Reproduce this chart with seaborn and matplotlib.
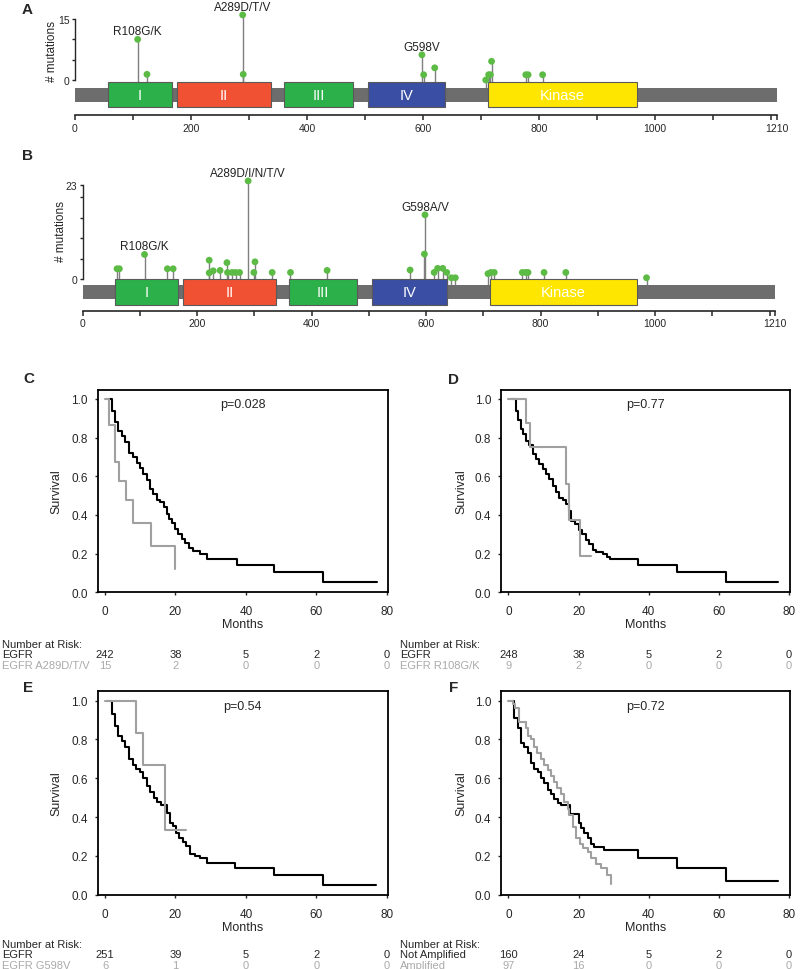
import pandas as pd
import matplotlib.pyplot as plt
import matplotlib.transforms as mtransforms
from matplotlib.patches import Rectangle
import seaborn as sns

sns.set_style("ticks")
plt.rcParams["font.family"] = ["Liberation Sans", "DejaVu Sans"]

# =========================================================
# DATA - EGFR protein / lollipops
# =========================================================
protein_len   = 1210
domain_names  = ["I", "II", "III", "IV", "Kinase"]
domain_starts = [57, 176, 360, 505, 712]
domain_ends   = [167, 337, 480, 637, 968]
domain_colors = ["#2cb04a", "#f05133", "#2cb04a", "#3a4ea3", "#ffe600"]

# panel A (counts)
a_pos = [108, 124, 289, 290, 598, 601, 620, 708, 713, 716, 718, 777, 781, 806]
a_cnt = [10, 1.4, 16, 1.4, 6.2, 1.3, 3.0, 0.0, 1.3, 1.3, 4.6, 1.3, 1.3, 1.3]
a_hot_pos = [108, 289, 598]
a_hot_lab = ["R108G/K", "A289D/T/V", "G598V"]

# panel B
b_pos = [60, 64, 108, 148, 158, 221, 221, 228, 240, 252, 253, 261, 267, 274, 289,
         299, 301, 331, 363, 427, 572, 597, 598, 614, 620, 629, 636, 644, 651,
         708, 713, 719, 768, 774, 778, 806, 844, 985]
b_cnt = [2.5, 2.5, 6.0, 2.5, 2.5, 4.6, 1.5, 2.0, 2.1, 4.0, 1.6, 1.6, 1.6, 1.6, 24,
         1.6, 4.2, 1.6, 1.6, 2.1, 2.2, 6.1, 15.7, 1.6, 2.6, 2.6, 1.6, 0.3, 0.3,
         1.3, 1.6, 1.6, 1.6, 1.6, 1.6, 1.6, 1.6, 0.3]
b_hot_pos = [108, 289, 598]
b_hot_lab = ["R108G/K", "A289D/I/N/T/V", "G598A/V"]

# =========================================================
# DATA - Kaplan-Meier curves (months, survival)
# =========================================================
c_t1 = [1.0, 1.9, 2.8, 3.8, 4.7, 5.7, 6.9, 8.0, 9.0, 9.9, 10.9, 11.8, 12.8, 13.7, 14.7, 15.6,
        16.6, 17.5, 18.2, 18.9, 19.9, 20.8, 21.8, 22.7, 23.7, 25.1, 27.0, 28.9, 37.4, 48.0, 62.0, 77.4]
c_s1 = [1.0, 0.94, 0.88, 0.835, 0.81, 0.78, 0.72, 0.70, 0.67, 0.645, 0.61, 0.58, 0.535, 0.51, 0.48, 0.465,
        0.44, 0.405, 0.38, 0.36, 0.325, 0.30, 0.275, 0.255, 0.23, 0.215, 0.20, 0.17, 0.14, 0.105, 0.055, 0.055]
c_t2 = [0, 1.0, 2.7, 4.0, 6.0, 8.0, 13.0, 20.0]
c_s2 = [1.0, 0.867, 0.675, 0.578, 0.48, 0.36, 0.24, 0.12]

d_t1 = [0.7, 2.1, 2.8, 3.5, 4.3, 5.0, 5.9, 6.9, 7.8, 8.8, 9.75, 10.7, 11.7, 12.6, 13.6, 14.5, 15.5,
        16.4, 17.4, 18.0, 19.0, 20.0, 21.0, 22.0, 23.0, 24.0, 25.0, 27.0, 28.0, 29.0, 37.0, 48.0, 62.0, 77.0]
d_s1 = [1.0, 0.94, 0.89, 0.845, 0.82, 0.785, 0.76, 0.715, 0.69, 0.665, 0.64, 0.61, 0.585, 0.55, 0.52, 0.49, 0.475,
        0.455, 0.42, 0.37, 0.355, 0.32, 0.30, 0.27, 0.25, 0.22, 0.21, 0.20, 0.185, 0.17, 0.14, 0.105, 0.055, 0.055]
d_t2 = [0, 5.1, 6.1, 16.3, 17.3, 20.3, 23.5]
d_s2 = [1.0, 0.875, 0.75, 0.56, 0.375, 0.19, 0.19]

e_t1 = [1.0, 1.9, 2.8, 3.8, 4.7, 5.7, 6.8, 7.9, 8.9, 9.9, 10.9, 11.8, 12.8, 13.8, 14.8, 15.8,
        17.5, 18.5, 19.3, 20.2, 21.1, 22.1, 23.0, 24.0, 25.5, 27.0, 29.0, 37.0, 48.0, 62.0, 77.0]
e_s1 = [1.0, 0.93, 0.87, 0.82, 0.79, 0.76, 0.70, 0.67, 0.65, 0.63, 0.60, 0.56, 0.53, 0.50, 0.48, 0.46,
        0.42, 0.37, 0.355, 0.32, 0.29, 0.27, 0.25, 0.21, 0.20, 0.19, 0.165, 0.135, 0.10, 0.05, 0.05]
e_t2 = [0, 8.9, 10.9, 16.9, 23.0]
e_s2 = [1.0, 0.833, 0.667, 0.333, 0.333]

f_t1 = [1.0, 1.7, 2.8, 3.7, 4.6, 5.5, 6.5, 7.4, 8.4, 9.3, 10.3, 11.2, 12.2, 13.1, 14.1, 15.0,
        17.6, 20.0, 20.7, 21.7, 22.6, 23.6, 24.4, 27.4, 37.0, 48.0, 62.0, 77.0]
f_s1 = [1.0, 0.91, 0.86, 0.78, 0.76, 0.73, 0.68, 0.65, 0.63, 0.60, 0.575, 0.54, 0.52, 0.495, 0.475, 0.46,
        0.415, 0.37, 0.345, 0.32, 0.29, 0.26, 0.245, 0.23, 0.19, 0.14, 0.07, 0.07]
f_t2 = [0, 1.4, 2.0, 3.1, 5.0, 5.5, 6.4, 7.4, 8.3, 9.3, 10.2, 11.2, 12.1, 13.1, 14.0, 15.0,
        16.0, 16.9, 17.4, 18.4, 19.3, 20.3, 21.2, 22.6, 23.6, 25.0, 26.5, 28.0, 29.4]
f_s2 = [1.0, 0.98, 0.96, 0.89, 0.86, 0.82, 0.80, 0.76, 0.73, 0.70, 0.67, 0.64, 0.61, 0.58, 0.55, 0.52,
        0.48, 0.44, 0.41, 0.35, 0.29, 0.26, 0.24, 0.22, 0.19, 0.16, 0.14, 0.10, 0.055]

risk_times = [0, 20, 40, 60, 80]
c_risk = (["EGFR", "EGFR A289D/T/V"], [242, 38, 5, 2, 0], [15, 2, 0, 0, 0])
d_risk = (["EGFR", "EGFR R108G/K"], [248, 38, 5, 2, 0], [9, 2, 0, 0, 0])
e_risk = (["EGFR", "EGFR G598V"], [251, 39, 5, 2, 0], [6, 1, 0, 0, 0])
f_risk = (["Not Amplified", "Amplified"], [160, 24, 5, 2, 0], [97, 16, 0, 0, 0])
p_values = ["p=0.028", "p=0.77", "p=0.54", "p=0.72"]

# =========================================================
# FIGURE
# =========================================================
W, H = 800, 970
fig = plt.figure(figsize=(W / 100, H / 100), dpi=100)
GREY = "#a0a0a0"


def add_ax(left, top, right, bottom):
    return fig.add_axes([left / W, 1 - bottom / H, (right - left) / W, (bottom - top) / H])


def fy(py):
    return 1 - py / H


def lollipop(ax, pos, cnt, hot_pos, hot_lab, ymax, ylim, bar_y, dom_y, ylab_xy):
    df = pd.DataFrame({"pos": pos, "cnt": cnt})
    ax.set_xlim(0, protein_len)
    ax.set_ylim(*ylim)
    ax.vlines(df["pos"], bar_y[1], df["cnt"], color="#7f7f7f", lw=1, zorder=1)
    ax.add_patch(Rectangle((0, bar_y[0]), protein_len, bar_y[1] - bar_y[0],
                           fc="#6d6d6d", ec="none", zorder=2))
    for name, s, e, c in zip(domain_names, domain_starts, domain_ends, domain_colors):
        ax.add_patch(Rectangle((s, dom_y[0]), e - s, dom_y[1] - dom_y[0],
                               fc=c, ec="#5a5a5a", lw=0.8, zorder=3))
        ax.text((s + e) / 2, (dom_y[0] + dom_y[1]) / 2, name, color="white",
                fontsize=10.5, ha="center", va="center", zorder=4)
    sns.scatterplot(data=df, x="pos", y="cnt", color="#5cbb45", s=24, edgecolor="none",
                    ax=ax, zorder=5, clip_on=False, legend=False)
    for p, lab in zip(hot_pos, hot_lab):
        top = df.loc[df["pos"] == p, "cnt"].max()
        ax.annotate(lab, xy=(p, top), xytext=(0, 3.8), textcoords="offset points",
                    ha="center", va="baseline", fontsize=8.5, color="#222222")
    for side in ["top", "right"]:
        ax.spines[side].set_visible(False)
    ax.spines["left"].set_bounds(0, ymax)
    ax.spines["left"].set_linewidth(1)
    ax.spines["bottom"].set_bounds(0, protein_len)
    ax.spines["bottom"].set_linewidth(1.2)
    ax.set_yticks(list(range(0, ymax, 5)) + [ymax])
    ax.set_yticklabels(["0"] + [""] * (len(range(0, ymax, 5)) - 1) + [str(ymax)])
    xt = list(range(0, 1201, 100)) + [protein_len]
    ax.set_xticks(xt)
    ax.set_xticklabels([str(v) if v in (0, 200, 400, 600, 800, 1000, 1210) else "" for v in xt])
    ax.tick_params(axis="x", length=3.5, width=1.1, pad=2, labelsize=7.5)
    ax.tick_params(axis="y", length=2.5, width=1, pad=1.5, labelsize=7.5)
    ax.set_xlabel("")
    ax.set_ylabel("")
    fig.text(ylab_xy[0] / W, fy(ylab_xy[1]), "# mutations", rotation=90,
             ha="center", va="center", fontsize=8.5)


ax_a = add_ax(75, 8, 777, 116)
lollipop(ax_a, a_pos, a_cnt, a_hot_pos, a_hot_lab, 15, (-8.6, 17.95),
         (-5.41, -1.97), (-6.64, -0.49), (52, 51))

ax_b = add_ax(82.7, 165, 775.3, 311.7)
lollipop(ax_b, b_pos, b_cnt, b_hot_pos, b_hot_lab, 23, (-7.76, 28.14),
         (-4.89, -1.47), (-6.36, 0.0), (60.5, 231))


def km(ax, t1, s1, t2, s2, pval, risk, risk_x, base_y, ylab_x):
    sns.lineplot(x=t1, y=s1, drawstyle="steps-post", estimator=None, color="black",
                 lw=1.5, ax=ax)
    sns.lineplot(x=t2, y=s2, drawstyle="steps-post", estimator=None, color=GREY,
                 lw=1.5, ax=ax)
    ax.set_xlim(-2.1, 80.3)
    ax.set_ylim(0, 1.048)
    ax.set_xticks(risk_times)
    ax.set_yticks([0, 0.2, 0.4, 0.6, 0.8, 1.0])
    ax.set_yticklabels([f"{v:.1f}" for v in [0, 0.2, 0.4, 0.6, 0.8, 1.0]])
    for sp in ax.spines.values():
        sp.set_linewidth(1.3)
        sp.set_color("black")
    ax.tick_params(axis="x", length=2.5, width=1, pad=7, labelsize=8.5)
    ax.tick_params(axis="y", length=2.5, width=1, pad=4.5, labelsize=8.5)
    ax.set_xlabel("Months", fontsize=9, va="baseline")
    ax.xaxis.set_label_coords(0.5, -0.173)
    ax.set_ylabel("Survival", fontsize=9, va="center")
    ax.yaxis.set_label_coords(ylab_x, 0.5)
    ax.text(0.5, 0.915, pval, transform=ax.transAxes, ha="center", va="baseline", fontsize=9)

    names, r1, r2 = risk
    trans = mtransforms.blended_transform_factory(ax.transData, fig.transFigure)
    fig.text(risk_x / W, fy(base_y), "Number at Risk:", fontsize=8, va="baseline")
    fig.text(risk_x / W, fy(base_y + 10.5), names[0], fontsize=8, va="baseline")
    fig.text(risk_x / W, fy(base_y + 21), names[1], fontsize=8, va="baseline", color="#aaaaaa")
    for m, v1, v2 in zip(risk_times, r1, r2):
        ax.text(m, fy(base_y + 10.5), str(v1), transform=trans, ha="center",
                va="baseline", fontsize=8, clip_on=False)
        ax.text(m, fy(base_y + 21), str(v2), transform=trans, ha="center",
                va="baseline", fontsize=8, color="#aaaaaa", clip_on=False)


ax_c = add_ax(97.7, 390.7, 387.7, 593.3)
km(ax_c, c_t1, c_s1, c_t2, c_s2, p_values[0], c_risk, 2, 648, -0.144)
ax_d = add_ax(501, 390.7, 790, 593.3)
km(ax_d, d_t1, d_s1, d_t2, d_s2, p_values[1], d_risk, 400, 648, -0.136)
ax_e = add_ax(97.7, 692.3, 387.7, 895.7)
km(ax_e, e_t1, e_s1, e_t2, e_s2, p_values[2], e_risk, 2, 948, -0.144)
ax_f = add_ax(501, 692.3, 790, 895.7)
km(ax_f, f_t1, f_s1, f_t2, f_s2, p_values[3], f_risk, 400, 948, -0.136)

# panel letters
for letter, x, y in [("A", 22, 14), ("B", 22, 160.5), ("C", 23, 383.5),
                     ("D", 448, 384.5), ("E", 23, 691.5), ("F", 449, 691.5)]:
    fig.text(x / W, fy(y), letter, fontsize=11, fontweight="bold", va="baseline")

fig.savefig("out.png", dpi=100)
